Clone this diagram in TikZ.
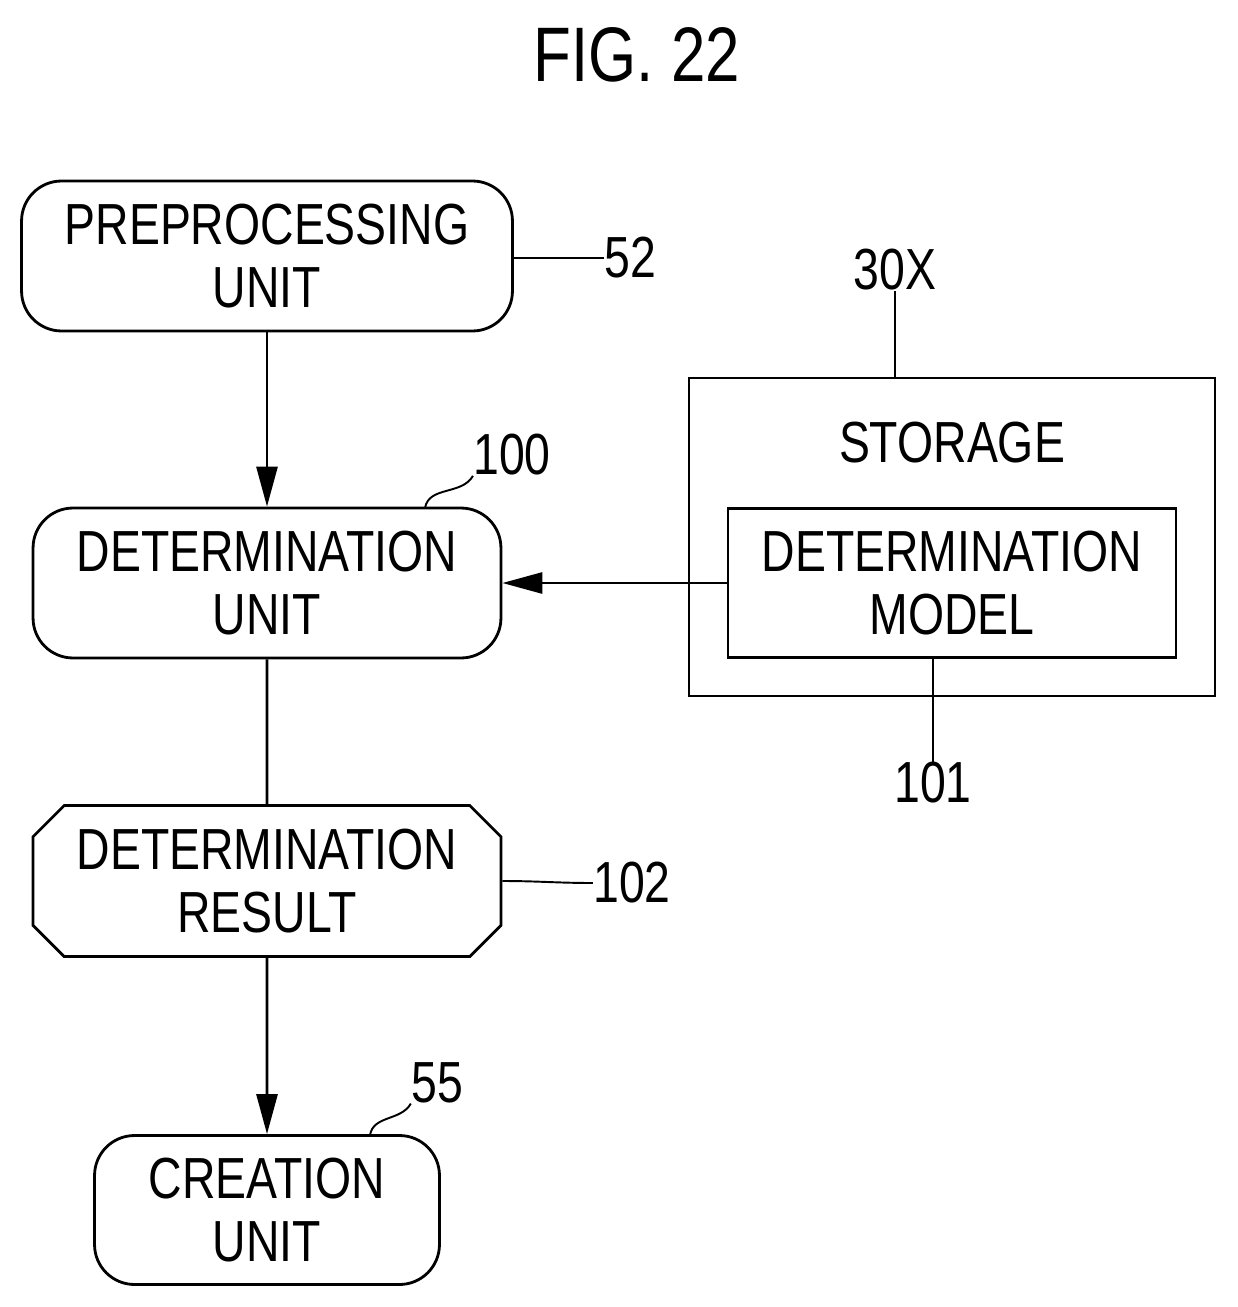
\documentclass[tikz,border=0pt]{standalone}
\usepackage{fontspec}
\setmainfont{Liberation Sans}[FakeStretch=0.8]
\usetikzlibrary{arrows.meta,shapes.misc}
\tikzset{
  unit/.style={draw,line width=1.6pt,rounded corners=0.8cm,align=center,font=\fontsize{33}{36}\selectfont,inner sep=0pt},
  box/.style={draw,line width=1.6pt,align=center,font=\fontsize{33}{36}\selectfont,inner sep=0pt},
  flow/.style={line width=1.6pt,-{Triangle[length=0.8cm,width=0.42cm]}},
  lead/.style={line width=1.1pt},
  num/.style={font=\fontsize{33}{36}\selectfont,inner sep=0pt}
}
\begin{document}
\begin{tikzpicture}[x=0.02cm,y=-0.02cm]
\useasboundingbox (0,0) rectangle (1237,1307);
\node[num,font=\fontsize{44}{48}\selectfont] (title) at (637,55) {FIG. 22};

\node[unit,minimum width=9.82cm,minimum height=3cm] (pre) at (267,256) {PREPROCESSING\\UNIT};
\node[unit,minimum width=9.36cm,minimum height=3cm] (det) at (267,583) {DETERMINATION\\UNIT};
\node[box,chamfered rectangle,chamfered rectangle xsep=0.5cm,minimum width=9.36cm,minimum height=3.02cm] (res) at (267,881) {DETERMINATION\\RESULT};
\node[unit,minimum width=6.9cm,minimum height=2.98cm] (cre) at (267,1210) {CREATION\\UNIT};

\node[box,minimum width=10.52cm,minimum height=6.36cm] (stor) at (952,537) {};
\node[num] (storlbl) at (952,443) {STORAGE};
\node[box,minimum width=8.96cm,minimum height=2.98cm] (model) at (952,583) {DETERMINATION\\MODEL};

\node[num] (n52) at (630,258) {52};
\node[num] (n100) at (512,455) {100};
\node[num] (n30x) at (895,270) {30X};
\node[num] (n101) at (933,783) {101};
\node[num] (n102) at (632,883) {102};
\node[num] (n55) at (437,1083) {55};

\draw[flow] (pre) -- (det);
\draw[flow] (model) -- (det);
\draw[line width=1.6pt] (det) -- (res);
\draw[flow] (res) -- (cre);

\draw[lead] (pre.east) ++(0,2) to[out=0,in=180] (n52.west);
\draw[lead] (425,508) to[out=80,in=240] (n100.south west);
\draw[lead] (stor.north -| n30x) to[out=90,in=-90] (n30x.south);
\draw[lead] (model.south -| n101) to[out=-90,in=90] (n101.north);
\draw[lead] (res.east) to[out=0,in=180] (n102.west);
\draw[lead] (370,1135) to[out=80,in=240] (n55.south west);
\end{tikzpicture}
\end{document}
